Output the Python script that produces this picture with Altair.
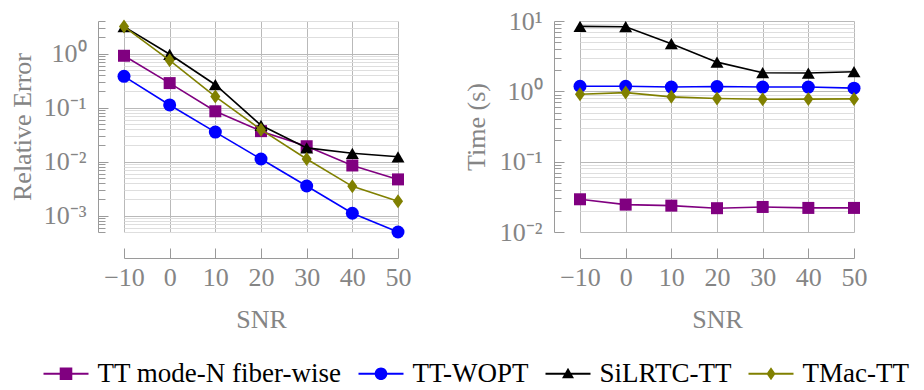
import altair as alt
import pandas as pd

# ---------------- data ----------------
snr = [-10, 0, 10, 20, 30, 40, 50]
methods = ["TT mode-N fiber-wise", "TT-WOPT", "SiLRTC-TT", "TMac-TT"]

err_fiber = [0.91, 0.284, 0.0855, 0.0367, 0.0193, 0.0085, 0.0047]
err_wopt = [0.379, 0.112, 0.0352, 0.0112, 0.00355, 0.00111, 0.0005]
err_silrtc = [3.15, 0.97, 0.265, 0.047, 0.018, 0.0143, 0.0123]
err_tmac = [3.15, 0.75, 0.16, 0.039, 0.0112, 0.0035, 0.00186]

time_fiber = [0.0292, 0.0245, 0.0237, 0.0218, 0.0227, 0.022, 0.022]
time_wopt = [1.18, 1.18, 1.15, 1.17, 1.15, 1.15, 1.11]
time_silrtc = [8.4, 8.3, 4.75, 2.6, 1.84, 1.82, 1.9]
time_tmac = [0.91, 0.96, 0.835, 0.79, 0.77, 0.775, 0.78]

err_major = [0.001, 0.01, 0.1, 1]
err_minor = [0.0005, 0.0006, 0.0007, 0.0008, 0.0009,
             0.002, 0.003, 0.004, 0.005, 0.006, 0.007, 0.008, 0.009,
             0.02, 0.03, 0.04, 0.05, 0.06, 0.07, 0.08, 0.09,
             0.2, 0.3, 0.4, 0.5, 0.6, 0.7, 0.8, 0.9, 2, 3, 4]
time_major = [0.01, 0.1, 1, 10]
time_minor = [0.02, 0.03, 0.04, 0.05, 0.06, 0.07, 0.08, 0.09,
              0.2, 0.3, 0.4, 0.5, 0.6, 0.7, 0.8, 0.9,
              2, 3, 4, 5, 6, 7, 8, 9]

# ---------------- styles ----------------
colors = ["#800080", "#0000ff", "#000000", "#808000"]
marker_shapes = ["square", "circle", "triangle-up", "M0,-1L0.72,0L0,1L-0.72,0Z"]
marker_sizes = [144, 169, 169, 196]
LINE = "M-3.75,-0.16H3.75V0.16H-3.75Z "
legend_shapes = [
    LINE + "M-1.05,-1.05H1.05V1.05H-1.05Z",
    LINE + "M-1.05,0A1.05,1.05 0 1,1 1.05,0A1.05,1.05 0 1,1 -1.05,0Z",
    LINE + "M0,-1.0L1.0,0.75L-1.0,0.75Z",
    LINE + "M0,-1.1L0.75,0L0,1.1L-0.75,0Z",
]

FONT = "Liberation Serif"
FS = 26
LFS = 27
GRAY = "#858585"
AXC = "#9a9a9a"
GRID_MAJ = "#b9b9b9"
GRID_MIN = "#dedede"
PW, PH = 274, 211

rows = []
for m, e_list, t_list in zip(methods, [err_fiber, err_wopt, err_silrtc, err_tmac],
                             [time_fiber, time_wopt, time_silrtc, time_tmac]):
    for s, e, t in zip(snr, e_list, t_list):
        rows.append({"method": m, "snr": s, "err": e, "time": t})
df = pd.DataFrame(rows)

label_expr = ("datum.value >= 5 ? '10¹' : datum.value >= 0.5 ? '10⁰' : "
              "datum.value >= 0.05 ? '10⁻¹' : datum.value >= 0.005 ? '10⁻²' : '10⁻³'")

legend_def = alt.Legend(
    orient="none", direction="horizontal", columns=4,
    legendX=-71.5, legendY=339, title=None,
    labelFont=FONT, labelFontSize=LFS, labelColor="black", labelLimit=600,
    symbolSize=144, symbolStrokeWidth=0, symbolOpacity=1,
    labelOffset=18, columnPadding=17, padding=0)


def panel(field, domain, majors, minors, title, title_x, with_legend):
    xs = alt.Scale(domain=[-10, 50], nice=False, zero=False)
    ys = alt.Scale(type="log", domain=domain, nice=False)

    x_main = alt.Axis(orient="bottom", values=snr, offset=16, tickSize=10, tickColor=AXC,
                      domain=False, grid=True, gridColor=GRID_MAJ, labelFont=FONT,
                      labelFontSize=FS, labelColor=GRAY, labelPadding=6, labelFlush=False,
                      labelOverlap=False, title="SNR", titleFont=FONT, titleFontSize=FS,
                      titleFontWeight="normal", titleColor=GRAY, titlePadding=16)
    x_dom = alt.Axis(orient="bottom", offset=26, domain=True, domainColor=AXC, ticks=False,
                     labels=False, grid=False, title=None)
    y_main = alt.Axis(orient="left", values=majors, offset=16, tickSize=10, tickColor=AXC,
                      domain=False, grid=True, gridColor=GRID_MAJ, labelFont=FONT,
                      labelFontSize=FS, labelColor=GRAY, labelPadding=12, labelExpr=label_expr,
                      labelOverlap=False, labelFlush=False, title=title, titleFont=FONT,
                      titleFontSize=FS, titleFontWeight="normal", titleColor=GRAY,
                      titleX=title_x, titleBaseline="middle")
    y_minor = alt.Axis(orient="left", values=minors, offset=19, tickSize=7, tickColor=AXC,
                       domain=False, grid=True, gridColor=GRID_MIN, labels=False, title=None)
    y_dom = alt.Axis(orient="left", offset=26, domain=True, domainColor=AXC, ticks=False,
                     labels=False, grid=False, title=None)

    base = alt.Chart(df)
    layers = [
        base.mark_point(opacity=0).encode(
            x=alt.X("snr:Q", scale=xs, axis=None),
            y=alt.Y(f"{field}:Q", scale=ys, axis=y_minor),
        )
    ]
    for i, m in enumerate(methods):
        first = i == 0
        layers.append(
            base.transform_filter(alt.datum.method == m).mark_line(
                color=colors[i], strokeWidth=1.6).encode(
                x=alt.X("snr:Q", scale=xs, axis=x_main if first else None),
                y=alt.Y(f"{field}:Q", scale=ys, axis=y_main if first else None),
            )
        )
        layers.append(
            base.transform_filter(alt.datum.method == m).mark_point(
                shape=marker_shapes[i], size=marker_sizes[i], filled=True,
                color=colors[i], opacity=1).encode(
                x=alt.X("snr:Q", scale=xs, axis=x_dom if first else None),
                y=alt.Y(f"{field}:Q", scale=ys, axis=y_dom if first else None),
            )
        )
    if with_legend:
        layers.append(
            base.mark_point(filled=True, opacity=0).encode(
                x=alt.X("snr:Q", scale=xs, axis=None),
                y=alt.Y(f"{field}:Q", scale=ys, axis=None),
                color=alt.Color("method:N", scale=alt.Scale(domain=methods, range=colors),
                                legend=legend_def),
                shape=alt.Shape("method:N", scale=alt.Scale(domain=methods, range=legend_shapes),
                                legend=legend_def),
            )
        )
    return alt.layer(*layers).resolve_axis(x="independent", y="independent").properties(
        width=PW, height=PH)


left = panel("err", [0.0005, 4], err_major, err_minor, "Relative Error", -86, True)
right = panel("time", [0.01, 10], time_major, time_minor, "Time (s)", -88, False)

chart = alt.hconcat(left, right, spacing=182, bounds="flush").properties(
    padding={"left": 0, "top": 0, "right": 0, "bottom": 0}
).configure(font=FONT).configure_view(stroke=None)

chart.save("out.html", embed_options={"renderer": "svg", "actions": False})
